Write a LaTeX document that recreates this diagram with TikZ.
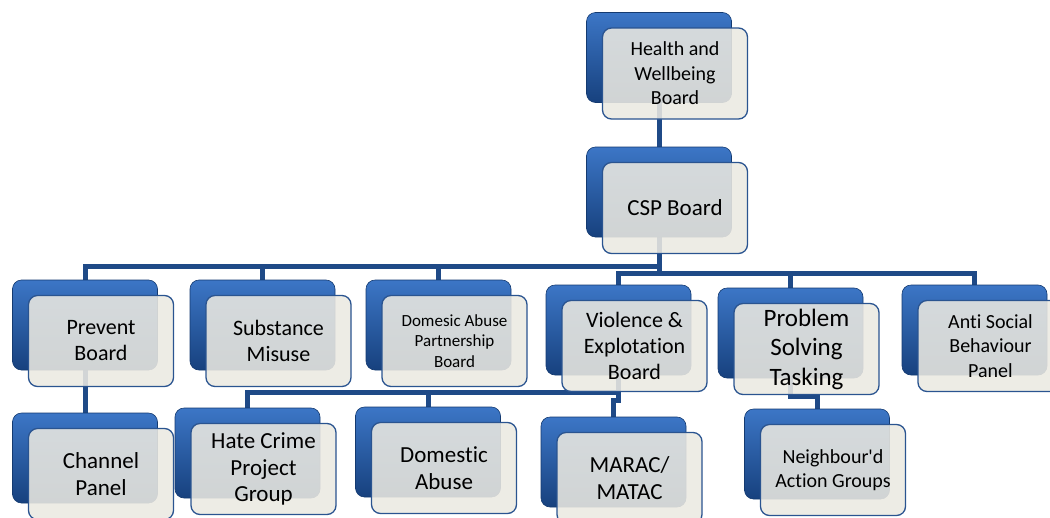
\documentclass[tikz,border=0pt]{standalone}
\usepackage{fontspec}
\setmainfont{Carlito}[Ligatures={TeXOff,NoCommon}]
\usetikzlibrary{calc}
\definecolor{conn}{HTML}{1F4A87}
\definecolor{bluetop}{HTML}{3C76C6}
\definecolor{bluemid}{HTML}{1F59A7}
\definecolor{bluebot}{HTML}{17417E}
\definecolor{blueedge}{HTML}{143A70}
\definecolor{frontfill}{HTML}{EBE9E1}
\definecolor{frontedge}{HTML}{2A5490}
\pgfdeclarelayer{bg}
\pgfsetlayers{bg,main}
\begin{document}
\begin{tikzpicture}[x=1pt,y=-1pt,
  back/.style={rectangle, rounded corners=9pt, minimum width=145pt, minimum height=90pt,
    top color=bluetop, middle color=bluemid, bottom color=bluebot, draw=blueedge, line width=0.6pt, inner sep=0pt},
  front/.style={rectangle, rounded corners=9pt, minimum width=145pt, minimum height=91pt,
    fill=frontfill, fill opacity=0.88, text opacity=1, draw=frontedge, line width=1.3pt,
    align=center, inner sep=2pt, text=black},
  link/.style={draw=conn, line width=5pt},
  fa/.style={font=\fontsize{17pt}{20.5pt}\selectfont},
  fb/.style={font=\fontsize{20pt}{24.5pt}\selectfont},
  fc/.style={font=\fontsize{22pt}{26pt}\selectfont},
  fd/.style={font=\fontsize{23pt}{26.5pt}\selectfont},
  fe/.style={font=\fontsize{25pt}{29.5pt}\selectfont}]
\path[use as bounding box] (0,0) rectangle (1050,517);

% back boxes
\node[back] (b-hwb) at (659,57.5) {};
\node[back] (b-csp) at (659,192) {};
\node[back] (b-prevent) at (85,325) {};
\node[back] (b-subst) at (262.5,325) {};
\node[back] (b-domesic) at (438.5,325) {};
\node[back] (b-viol) at (618.5,330) {};
\node[back] (b-prob) at (790.5,333) {};
\node[back] (b-anti) at (974.5,330) {};
\node[back] (b-channel) at (85,458) {};
\node[back] (b-hate) at (247.5,453) {};
\node[back] (b-domab) at (428,452) {};
\node[back] (b-marac) at (613.5,462) {};
\node[back] (b-neigh) at (817,454) {};

% front boxes
\node[front,fb] (hwb) at ($(b-hwb)+(16,16)$) {Health and\\Wellbeing\\Board};
\node[front,fd] (csp) at ($(b-csp)+(16,16)$) {CSP Board};
\node[front,fc] (prevent) at ($(b-prevent)+(16,16)$) {Prevent\\Board};
\node[front,fc] (subst) at ($(b-subst)+(16,16)$) {Substance\\Misuse};
\node[front,fa] (domesic) at ($(b-domesic)+(16,16)$) {Domesic Abuse\\Partnership\\Board};
\node[front,fc] (viol) at ($(b-viol)+(16,16)$) {Violence \&\\Explotation\\Board};
\node[front,fe] (prob) at ($(b-prob)+(16,16)$) {Problem\\Solving\\Tasking};
\node[front,fb] (anti) at ($(b-anti)+(16,16)$) {Anti Social\\Behaviour\\Panel};
\node[front,fd] (channel) at ($(b-channel)+(16,16)$) {Channel\\Panel};
\node[front,fd] (hate) at ($(b-hate)+(16,16)$) {Hate Crime\\Project\\Group};
\node[front,fd] (domab) at ($(b-domab)+(16,16)$) {Domestic\\Abuse};
\node[front,fd] (marac) at ($(b-marac)+(16,16)$) {MARAC/\\MATAC};
\node[front,fb] (neigh) at ($(b-neigh)+(16,16)$) {Neighbour'd\\Action Groups};

% bus levels
\coordinate (busA) at (0,266);
\coordinate (busB) at (0,273);
\coordinate (busC) at (0,392);
\coordinate (busM) at (0,400);
\coordinate (busN) at (0,396);

\begin{pgfonlayer}{bg}
\draw[link] (b-hwb.center) -- (b-csp.center);
\draw[link] (b-csp.center) -- (b-csp.center |- busB);
\draw[link] (b-prevent.center) -- (b-prevent.center |- busA) -- (b-csp.center |- busA);
\draw[link] (b-subst.center) -- (b-subst.center |- busA);
\draw[link] (b-domesic.center) -- (b-domesic.center |- busA);
\draw[link] (b-viol.center) -- (b-viol.center |- busB) -- (b-anti.center |- busB) -- (b-anti.center);
\draw[link] (b-prob.center) -- (b-prob.center |- busB);
\draw[link] (b-prevent.center) -- (b-channel.center);
\draw[link] (b-viol.center) -- (b-viol.center |- busC) -- (b-hate.center |- busC) -- (b-hate.center);
\draw[link] (b-domab.center) -- (b-domab.center |- busC);
\draw[link] (b-viol.center |- busC) -- (b-viol.center |- busM) -- (b-marac.center |- busM) -- (b-marac.center);
\draw[link] (b-prob.center) -- (b-prob.center |- busN) -- (b-neigh.center |- busN) -- (b-neigh.center);
\end{pgfonlayer}
\end{tikzpicture}
\end{document}
